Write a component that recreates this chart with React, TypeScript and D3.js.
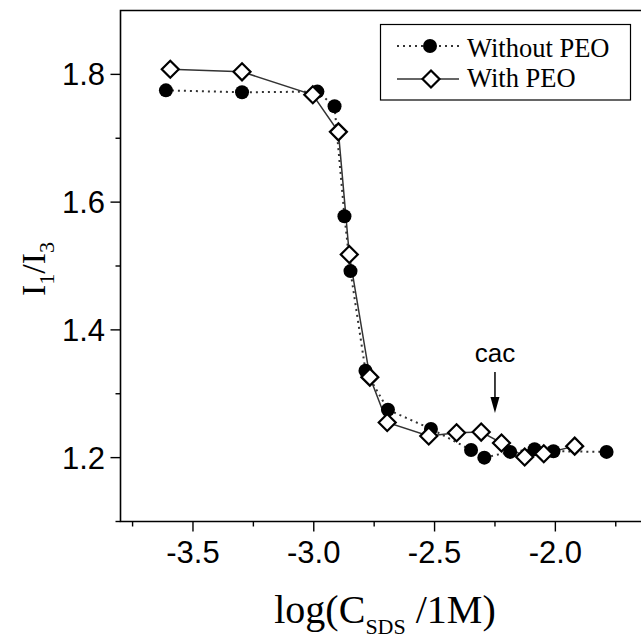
import React from "react";
import * as d3 from "d3";

const withoutX = [-3.612, -3.297, -2.985, -2.914, -2.873, -2.848, -2.786, -2.693, -2.515, -2.349, -2.294, -2.187, -2.086, -2.008, -1.788];
const withoutY = [1.775, 1.772, 1.773, 1.750, 1.578, 1.492, 1.336, 1.275, 1.245, 1.212, 1.200, 1.209, 1.213, 1.210, 1.209];
const withX = [-3.594, -3.297, -3.004, -2.898, -2.853, -2.768, -2.696, -2.524, -2.409, -2.307, -2.223, -2.127, -2.048, -1.920];
const withY = [1.808, 1.804, 1.768, 1.710, 1.518, 1.326, 1.255, 1.234, 1.239, 1.240, 1.223, 1.201, 1.206, 1.218];
const xTicks = [-3.5, -3.0, -2.5, -2.0];
const xMinor = [-3.75, -3.25, -2.75, -2.25, -1.75];
const yTicks = [1.2, 1.4, 1.6, 1.8];
const yMinor = [1.1, 1.3, 1.5, 1.7];
const seriesNames = ["Without PEO", "With PEO"];
const cacX = -2.25;

export default function App() {
  const W = 641, H = 640;
  const x = d3.scaleLinear().domain([-3.8, -1.6]).range([120.5, 652]);
  const y = d3.scaleLinear().domain([1.1, 1.9]).range([521.5, 10.5]);
  const line = d3.line<[number, number]>().x(d => x(d[0])).y(d => y(d[1]));
  const withoutPts: [number, number][] = withoutX.map((v, i) => [v, withoutY[i]]);
  const withPts: [number, number][] = withX.map((v, i) => [v, withY[i]]);
  const diamond = (cx: number, cy: number, r: number) => `M${cx},${cy - r}L${cx + r},${cy}L${cx},${cy + r}L${cx - r},${cy}Z`;
  const x0 = x.range()[0], y0 = y.range()[0], yTop = y.range()[1];
  const sans = "'Liberation Sans', Arial, sans-serif";
  const serif = "'Liberation Serif', 'Times New Roman', serif";
  const cx = x(cacX);
  return (
    <svg width={W} height={H} style={{ position: "absolute", left: 0, top: 0, background: "#fff" }}>
      <rect x={0} y={0} width={W} height={H} fill="#fff" />
      {/* frame */}
      <path d={`M${W + 5},${yTop}H${x0}V${y0}H${W + 5}`} fill="none" stroke="#000" strokeWidth={1.6} />
      {xTicks.map(t => (
        <g key={"xt" + t}>
          <line x1={x(t)} x2={x(t)} y1={y0} y2={y0 + 10} stroke="#000" strokeWidth={1.4} />
          <text x={x(t)} y={563} textAnchor="middle" fontFamily={sans} fontSize={31}>{t.toFixed(1)}</text>
        </g>
      ))}
      {xMinor.map(t => (
        <line key={"xm" + t} x1={x(t)} x2={x(t)} y1={y0} y2={y0 + 5} stroke="#000" strokeWidth={1.4} />
      ))}
      {yTicks.map(t => (
        <g key={"yt" + t}>
          <line x1={x0 - 10} x2={x0} y1={y(t)} y2={y(t)} stroke="#000" strokeWidth={1.4} />
          <text x={105} y={y(t) + 11} textAnchor="end" fontFamily={sans} fontSize={31}>{t.toFixed(1)}</text>
        </g>
      ))}
      {yMinor.map(t => (
        <line key={"ym" + t} x1={x0 - 5} x2={x0} y1={y(t)} y2={y(t)} stroke="#000" strokeWidth={1.4} />
      ))}
      {/* axis titles */}
      <text x={385} y={623} textAnchor="middle" fontFamily={serif} fontSize={40}>
        log(C<tspan fontSize={22} dy={11}>SDS</tspan><tspan dy={-11}> /1M)</tspan>
      </text>
      <text transform={`translate(45,269) rotate(-90)`} textAnchor="middle" fontFamily={serif} fontSize={34}>
        I<tspan fontSize={22} dy={9}>1</tspan><tspan dy={-9}>/I</tspan><tspan fontSize={22} dy={9}>3</tspan>
      </text>
      {/* series */}
      <path d={line(withoutPts) || ""} fill="none" stroke="#333" strokeWidth={2} strokeDasharray="2,4" />
      <path d={line(withPts) || ""} fill="none" stroke="#333" strokeWidth={1.5} />
      {withoutPts.map((p, i) => (
        <circle key={"c" + i} cx={x(p[0])} cy={y(p[1])} r={7} fill="#000" />
      ))}
      {withPts.map((p, i) => (
        <path key={"d" + i} d={diamond(x(p[0]), y(p[1]), 8.5)} fill="#fff" stroke="#000" strokeWidth={2.2} />
      ))}
      {/* cac annotation */}
      <text x={cx} y={362} textAnchor="middle" fontFamily={sans} fontSize={26}>cac</text>
      <line x1={cx} x2={cx} y1={372} y2={404} stroke="#000" strokeWidth={1.5} />
      <path d={`M${cx - 4.5},${397}L${cx},${413}L${cx + 4.5},${397}Z`} fill="#000" />
      {/* legend */}
      <rect x={380.5} y={24.5} width={250} height={75.5} fill="#fff" stroke="#000" strokeWidth={1.2} />
      <line x1={397} x2={459} y1={46} y2={46} stroke="#333" strokeWidth={2} strokeDasharray="2,4" />
      <circle cx={430} cy={46} r={7} fill="#000" />
      <text x={467} y={57} fontFamily={serif} fontSize={26.5}>{seriesNames[0]}</text>
      <line x1={397} x2={459} y1={79} y2={79} stroke="#333" strokeWidth={1.5} />
      <path d={diamond(431, 79, 8.5)} fill="#fff" stroke="#000" strokeWidth={2.2} />
      <text x={467} y={87} fontFamily={serif} fontSize={26.5}>{seriesNames[1]}</text>
    </svg>
  );
}
